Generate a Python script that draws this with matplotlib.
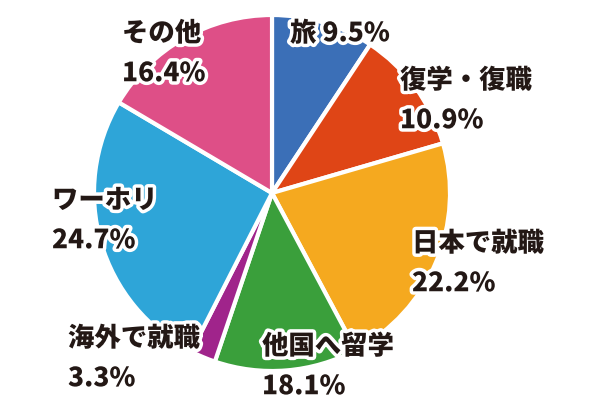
import matplotlib
matplotlib.use("Agg")
import matplotlib.pyplot as plt
import matplotlib.patheffects as pe

plt.rcParams['font.family'] = ['Noto Sans CJK JP', 'DejaVu Sans']

categories = ["旅", "復学・復職", "日本で就職", "他国へ留学", "海外で就職", "ワーホリ", "その他"]
# printed label percentages
label_values = [9.5, 10.9, 22.2, 18.1, 3.3, 24.7, 16.4]
# slice shares as drawn in the picture
wedge_shares = [9.3, 11.2, 21.7, 13.0, 2.3, 26.0, 16.5]
colors = ["#3b6fb7", "#df4516", "#f5a91f", "#3a9f3b", "#a0248b", "#2ea5d8", "#de4f87"]

# label anchor positions (pixels, left-aligned, top line center)
label_pos = [(290, 33), (400, 80), (412, 243), (262, 346), (68, 338), (52, 200), (122, 33)]
one_line = [True, False, False, False, False, False, False]

fig = plt.figure(figsize=(6, 4), dpi=100)
ax = fig.add_axes([0, 0, 1, 1])

ax.pie(wedge_shares, colors=colors, startangle=90, counterclock=False,
       center=(272, 400 - 193), radius=178,
       wedgeprops=dict(edgecolor='white', linewidth=3))
ax.set_xlim(0, 600)
ax.set_ylim(0, 400)
ax.set_aspect('equal')
ax.axis('off')

effects = [pe.withStroke(linewidth=5, foreground='white')]
style = dict(fontsize=19, fontweight='black', color='#231815',
             ha='left', va='center', path_effects=effects)
for cat, v, (x, y), single in zip(categories, label_values, label_pos, one_line):
    if single:
        ax.text(x, 400 - y, f"{cat} {v}%", **style)
    else:
        ax.text(x, 400 - y, cat, **style)
        ax.text(x, 400 - y - 40, f"{v}%", **style)

fig.savefig("out.png", dpi=100)
